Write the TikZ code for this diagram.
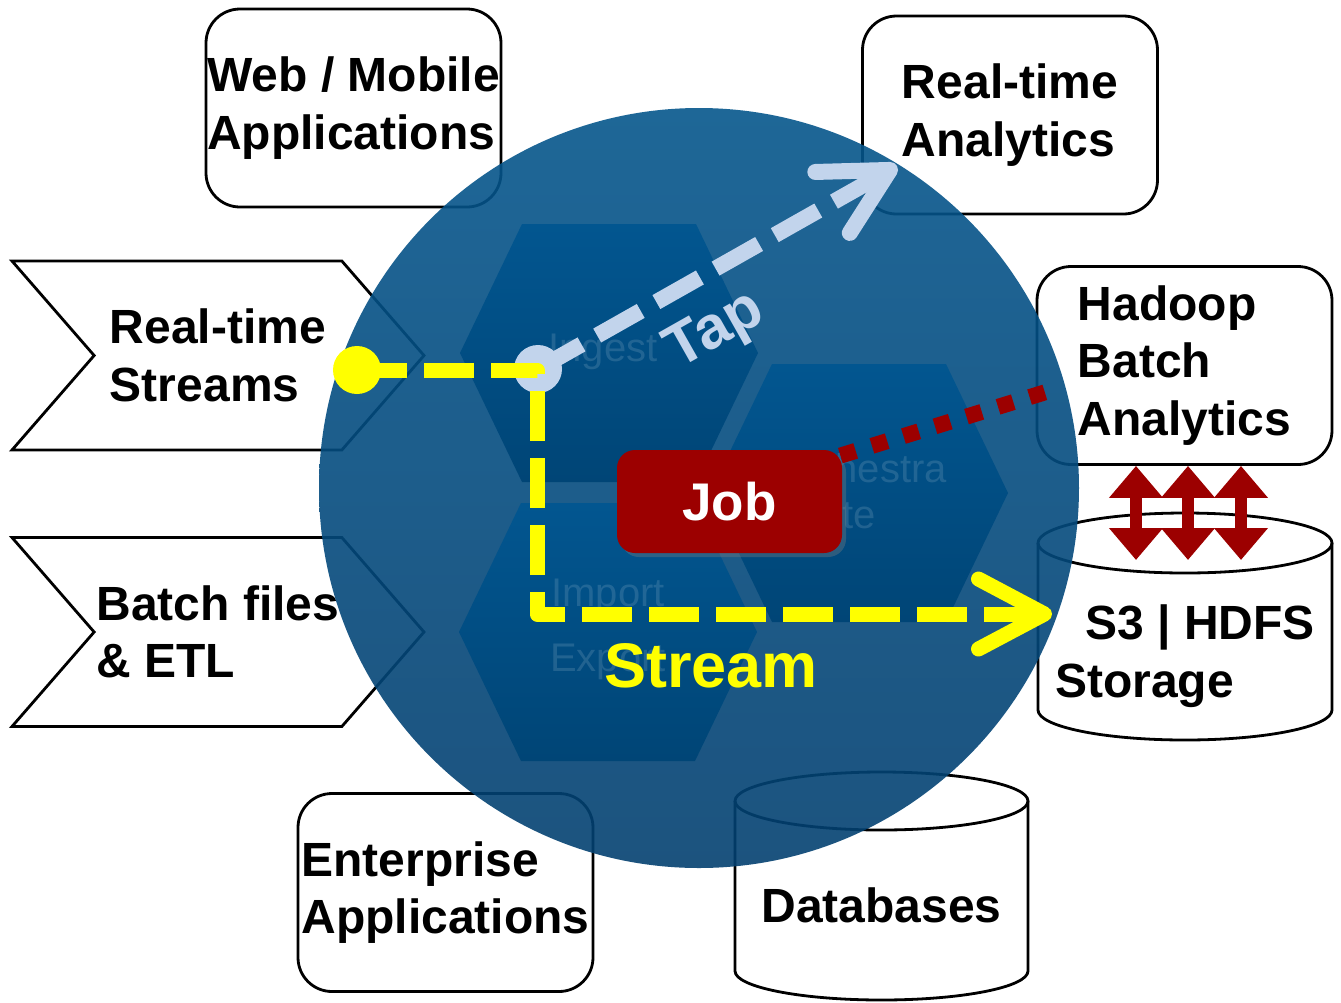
\documentclass[tikz,border=0pt]{standalone}
\usepackage{fontspec}
\setmainfont{Liberation Sans}
\usetikzlibrary{shapes.symbols, arrows.meta, calc, shadows}

\definecolor{ringtop}{HTML}{05568C}
\definecolor{ringbot}{HTML}{034070}
\definecolor{hextop}{HTML}{025690}
\definecolor{hexbot}{HTML}{004576}
\definecolor{tapblue}{HTML}{C2D4EC}
\definecolor{jobred}{HTML}{9C0000}
\definecolor{streamyellow}{HTML}{FFFF00}

\tikzstyle{box} = [rectangle, rounded corners=17pt, minimum width=147.5pt, minimum height=99pt, draw=black, line width=1.4pt, align=left, inner sep=0pt, font=\fontsize{24}{28.8}\selectfont\bfseries]
\tikzstyle{chevron} = [signal, signal to=east, signal from=west, signal pointer angle=98, minimum width=206pt, minimum height=94.5pt, draw=black, line width=1.4pt, align=left, inner sep=0.5pt, font=\fontsize{24}{28.8}\selectfont\bfseries]
\tikzstyle{cyl} = [draw=black, line width=1.4pt]
\tikzstyle{bigtext} = [align=left, inner sep=0pt, font=\fontsize{24}{28.8}\selectfont\bfseries]
\tikzstyle{faint} = [text=white, text opacity=0.13, align=center, font=\fontsize{20}{23}\selectfont]
\tikzstyle{streamline} = [draw=streamyellow, line width=7.5pt, dash pattern=on 25pt off 8.5pt, line join=round, -{Straight Barb[length=33pt, width=35pt, line cap=round, line join=round]}]
\tikzstyle{tapline} = [draw=tapblue, line width=8pt, dash pattern=on 25pt off 9pt, -{Straight Barb[length=33pt, width=35pt, line cap=round, line join=round]}]
\tikzstyle{dotline} = [draw=jobred, line width=8pt, dash pattern=on 8pt off 8.5pt]
\tikzstyle{biarrow} = [draw=jobred, line width=6pt, {Triangle[length=16pt, width=26pt]}-{Triangle[length=16pt, width=26pt]}]
\tikzstyle{jobbox} = [rectangle, rounded corners=9pt, fill=jobred, text=white, minimum width=112.5pt, minimum height=51.5pt, font=\fontsize{26.5}{30}\selectfont\bfseries, drop shadow={opacity=0.35, shadow xshift=2pt, shadow yshift=-2pt}]

\begin{document}
\begin{tikzpicture}[x=0.5pt, y=-0.5pt]
    \useasboundingbox (0,0) rectangle (1341,1003);

    % sources
    \node (webapps) [box] at (353.5,108) {Web / Mobile\\Applications};
    \node (rtstreams) [chevron] at (218,355.5) {Real-time\\Streams};
    \node (batchfiles) [chevron] at (218,632) {Batch files\\\& ETL};
    \node (entapps) [box] at (445.5,892.5) {Enterprise\\Applications};

    % sinks
    \node (rtanalytics) [box] at (1010,115) {Real-time\\Analytics};
    \node (hadoop) [box] at (1184.5,365.5) {Hadoop\\Batch\\Analytics};

    % databases
    \draw [cyl] (735,801) -- (735,971) arc [start angle=180, end angle=0, x radius=146.5, y radius=29] -- (1028,801);
    \draw [cyl] (881.5,801) ellipse [x radius=146.5, y radius=29];
    \node (databases) [bigtext] at (881.5,905) {Databases};

    % storage
    \draw [cyl] (1038,543) -- (1038,710) arc [start angle=180, end angle=0, x radius=147, y radius=30] -- (1332,543);
    \draw [cyl] (1185,543) ellipse [x radius=147, y radius=30];
    \node (storage) [bigtext] at (1185,656) {\hspace*{15pt}S3 | HDFS\\Storage};

    % the ring
    \shade [top color=ringtop, bottom color=ringbot, fill opacity=0.9] (699,488) circle [radius=380];
    \foreach \cx/\cy in {609/353, 859/493, 608/632}
        \shade [top color=hextop, bottom color=hexbot] (\cx-149,\cy) -- (\cx-87,\cy-129) -- (\cx+87,\cy-129) -- (\cx+149,\cy) -- (\cx+87,\cy+129) -- (\cx-87,\cy+129) -- cycle;
    \node (ingest) [faint] at (603,352) {Ingest};
    \node (orchestrate) [faint] at (859,491) {Orchestra\\te};
    \node (impexp) [faint, font=\fontsize{20}{32.5}\selectfont] at (608,629) {Import\\Export};

    % coordinates
    \coordinate (rtsrc) at (357,370);
    \coordinate (corner) at (537,370);
    \coordinate (s3arrow) at (1052,614);
    \coordinate (taptip) at (897,166);
    \coordinate (s3cap) at (1184.5,560);

    % tap
    \node (tapdot) [circle, fill=tapblue, minimum size=24pt, inner sep=0pt] at (538,369) {};
    \draw [tapline] (tapdot.center) -- (taptip);
    \node (taplbl) [text=tapblue, rotate=29.5, font=\fontsize{30}{36}\selectfont\bfseries] at (716,332) {Tap};

    % stream
    \draw [streamline] (rtsrc) -- (corner) -- (corner |- s3arrow) -- (s3arrow);
    \node (rtdot) [circle, fill=streamyellow, minimum size=24pt, inner sep=0pt] at (rtsrc) {};
    \node (streamlbl) [text=streamyellow, font=\fontsize{31.5}{36}\selectfont\bfseries] at (711,666) {Stream};

    % job
    \node (job) [jobbox] at (729.5,501.5) {Job};
    \draw [dotline] ($(job.north east)+(-2,6)$) -- ($(hadoop.west)+(25,22)$);

    % hadoop <-> storage
    \foreach \dx in {-48.5,3.5,56.5}
        \draw [biarrow] ($(hadoop.south)+(\dx,0)$) -- ($(s3cap)+(\dx,0)$);
\end{tikzpicture}
\end{document}
